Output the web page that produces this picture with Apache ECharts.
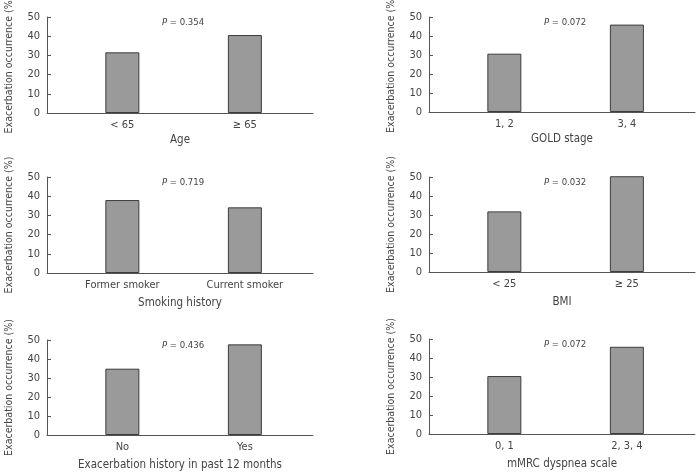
<!DOCTYPE html>
<html>
<head>
<meta charset="utf-8">
<script src="https://cdn.jsdelivr.net/npm/echarts@6/dist/echarts.min.js"></script>
<style>
  html, body { margin: 0; padding: 0; background: #fff; }
  #chart { width: 700px; height: 475px; }
</style>
</head>
<body>
<div id="chart"></div>
<script>
  // panel data
  var panelTitles = ['Age', 'GOLD stage', 'Smoking history', 'BMI', 'Exacerbation history in past 12 months', 'mMRC dyspnea scale']
  var pValues = ['0.354', '0.072', '0.719', '0.032', '0.436', '0.072']
  var ageCats = ['< 65', '≥ 65']
  var ageVals = [31.6, 40.6]
  var goldCats = ['1, 2', '3, 4']
  var goldVals = [30.7, 46.0]
  var smokeCats = ['Former smoker', 'Current smoker']
  var smokeVals = [38.0, 34.2]
  var bmiCats = ['< 25', '≥ 25']
  var bmiVals = [31.9, 50.4]
  var histCats = ['No', 'Yes']
  var histVals = [34.9, 47.7]
  var mmrcCats = ['0, 1', '2, 3, 4']
  var mmrcVals = [30.5, 45.9]
  var yTicks = [0, 10, 20, 30, 40, 50]

  var cats = [ageCats, goldCats, smokeCats, bmiCats, histCats, mmrcCats]
  var vals = [ageVals, goldVals, smokeVals, bmiVals, histVals, mmrcVals]

  var font = '"Liberation Sans Narrow", "DejaVu Sans Condensed", sans-serif'
  var textColor = '#444'
  var axisColor = '#555'

  // grid boxes (px), gap = distance of the x axis name
  var boxes = [
    {left: 47, top: 17, width: 266, height: 96, gap: 21},
    {left: 429, top: 17, width: 266, height: 95, gap: 21},
    {left: 47, top: 177, width: 266, height: 96, gap: 24},
    {left: 429, top: 177, width: 266, height: 95, gap: 24},
    {left: 47, top: 340, width: 266, height: 95, gap: 24},
    {left: 429, top: 339, width: 266, height: 95, gap: 24}
  ]

  var grids = [], xAxes = [], yAxes = [], series = [], titles = []
  boxes.forEach(function (b, i) {
    grids.push({left: b.left, top: b.top, width: b.width, height: b.height, outerBoundsMode: 'none', containLabel: false})
    let names = cats[i]
    xAxes.push({
      type: 'value',
      gridIndex: i,
      min: -0.615,
      max: 1.556,
      name: panelTitles[i],
      nameLocation: 'middle',
      nameGap: b.gap,
      nameTextStyle: {fontFamily: font, fontSize: 11.5, color: textColor},
      axisLine: {show: true, onZero: false, lineStyle: {color: axisColor, width: 1}},
      axisTick: {show: false},
      splitLine: {show: false},
      axisLabel: {
        customValues: [0, 1],
        margin: 7,
        fontFamily: font,
        fontSize: 11,
        color: textColor,
        formatter: function (v) { return names[Math.round(v)] }
      }
    })
    yAxes.push({
      type: 'value',
      gridIndex: i,
      min: yTicks[0],
      max: yTicks[yTicks.length - 1],
      interval: yTicks[1] - yTicks[0],
      name: 'Exacerbation occurrence (%)',
      nameLocation: 'middle',
      nameGap: 32,
      nameTextStyle: {fontFamily: font, fontSize: 10.5, color: textColor},
      axisLine: {show: true, onZero: false, lineStyle: {color: axisColor, width: 1}},
      axisTick: {show: true, inside: true, length: 4, lineStyle: {color: axisColor}},
      splitLine: {show: false},
      axisLabel: {margin: 7, fontFamily: font, fontSize: 11, color: textColor}
    })
    series.push({
      type: 'bar',
      xAxisIndex: i,
      yAxisIndex: i,
      barWidth: 34,
      clip: false,
      silent: true,
      itemStyle: {color: '#9a9a9a', borderColor: '#3c3c3c', borderWidth: 1},
      data: vals[i].map(function (v, k) { return [k, v] })
    })
    titles.push({
      text: '{i|P} = ' + pValues[i],
      left: b.left + b.width / 2 + 3,
      top: b.top + 1,
      padding: 0,
      textAlign: 'center',
      textStyle: {
        fontFamily: font,
        fontSize: 9.5,
        fontWeight: 'normal',
        color: textColor,
        rich: {i: {fontStyle: 'italic', fontFamily: font, fontSize: 9.5, color: textColor}}
      }
    })
  })

  let myChart = echarts.init(document.getElementById('chart'), null, {renderer: 'canvas'})
  myChart.setOption({
    animation: false,
    backgroundColor: '#fff',
    title: titles,
    grid: grids,
    xAxis: xAxes,
    yAxis: yAxes,
    series: series
  })
</script>
</body>
</html>
